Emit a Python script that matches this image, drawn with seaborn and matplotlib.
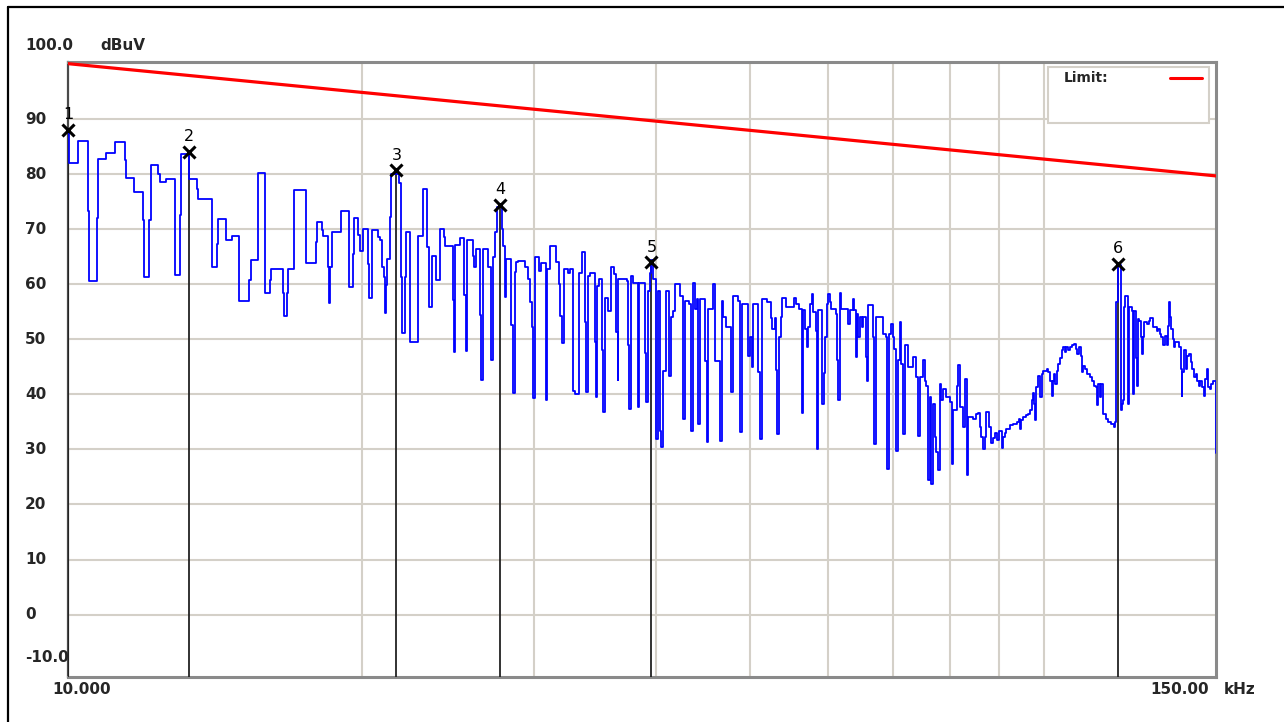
import matplotlib
matplotlib.use("Agg")
import pandas as pd
import matplotlib.pyplot as plt
import matplotlib.transforms as mtransforms
from matplotlib.lines import Line2D
from matplotlib.patches import Rectangle
from matplotlib.ticker import FixedLocator, NullLocator
import seaborn as sns

# ---------- DATA ----------
# scan trace (kHz, dBuV), each value holds until the next frequency
freq_a = [10.00, 10.03, 10.25, 10.48, 10.51, 10.72, 10.74, 10.94, 11.18, 11.45, 11.47, 11.69, 11.94, 11.96,
          12.11, 12.16, 12.37, 12.43, 12.60, 12.88, 13.03, 13.06, 13.31, 13.56, 13.59, 14.05, 14.20, 14.24,
          14.52, 14.71, 14.98, 15.34, 15.40, 15.64, 15.90, 15.93, 16.10, 16.14, 16.60, 16.66, 16.75, 16.79,
          17.03, 17.06]
level_a = [87.5, 82.0, 86.0, 73.4, 60.6, 72.0, 82.7, 83.8, 85.9, 82.6, 79.4, 76.7, 71.6, 61.4,
           71.7, 81.7, 80.0, 78.6, 79.1, 61.7, 72.6, 83.6, 79.1, 77.3, 75.5, 63.1, 67.3, 71.8,
           68.1, 68.7, 57.0, 60.7, 64.4, 80.3, 69.3, 58.4, 60.7, 62.8, 58.4, 54.2, 58.4, 62.8,
           70.2, 77.2]

freq_b = [17.52, 17.94, 17.99, 18.19, 18.25, 18.46, 18.51, 18.57, 18.64, 19.06, 19.41, 19.57, 19.63, 19.84,
          19.90, 20.05, 20.28, 20.33, 20.50, 20.80, 20.86, 20.99, 21.06, 21.11, 21.16, 21.22, 21.36, 21.44,
          21.84, 21.96, 22.01, 22.14, 22.19, 22.43, 22.84, 23.11, 23.33, 23.42, 23.60, 23.85, 24.07, 24.26,
          24.36, 24.77, 24.85, 24.93, 25.20, 25.46, 25.56, 25.64, 25.97, 26.05, 26.15, 26.42, 26.52, 26.59,
          26.94, 27.15, 27.26, 27.41, 27.54, 27.81, 27.91, 28.02, 28.13, 28.46, 28.57, 28.68, 28.80, 28.91,
          29.37, 29.60, 29.72, 29.88, 29.95]
level_b = [63.9, 67.7, 71.3, 69.9, 68.7, 63.1, 56.6, 63.1, 69.6, 73.4, 59.5, 65.5, 72.0, 68.9,
           66.1, 70.1, 63.7, 57.6, 69.9, 68.6, 68.0, 63.1, 61.3, 54.8, 59.8, 64.6, 72.3, 80.1,
           78.5, 61.3, 51.2, 61.3, 69.5, 49.6, 68.7, 77.4, 66.7, 55.9, 65.1, 60.7, 70.1, 68.6,
           67.0, 57.1, 47.7, 67.2, 68.4, 58.0, 47.8, 68.0, 65.2, 63.1, 66.4, 54.4, 42.7, 66.4,
           63.1, 46.3, 64.9, 69.6, 74.1, 70.1, 67.0, 57.7, 64.6, 52.6, 40.2, 62.2, 64.0, 64.3,
           63.1, 61.0, 56.8, 52.3, 39.3]

freq_c = [30.12, 30.36, 30.55, 30.86, 30.96, 31.21, 31.60, 31.85, 31.95, 32.07, 32.20, 32.53, 32.66, 32.92,
          33.06, 33.37, 33.64, 33.85, 33.93, 34.06, 34.24, 34.65, 34.73, 34.84, 35.01, 35.21, 35.35, 35.49,
          35.76, 35.96, 36.24, 36.41, 36.56, 36.64, 37.35, 37.49, 37.57, 37.70, 37.93, 38.38, 38.47, 38.99,
          39.14, 39.29, 39.45, 39.60, 39.75, 40.07, 40.23, 40.39, 40.55, 40.71, 40.97, 41.28, 41.52, 41.67,
          41.91, 42.41, 42.67, 42.84, 43.28, 43.45, 43.63, 43.87, 44.05, 44.21, 44.39, 44.92, 45.10, 45.26,
          45.74, 45.99, 46.53, 46.72, 46.89, 47.27, 47.83, 48.01, 48.58, 48.86, 49.01, 49.75, 49.95, 50.15,
          50.34, 50.93, 51.13, 51.46]
level_c = [65.0, 62.5, 63.8, 38.9, 62.7, 67.0, 64.1, 60.0, 54.3, 49.3, 62.7, 62.1, 62.7, 40.6,
           40.0, 62.1, 65.8, 53.1, 40.4, 61.5, 62.1, 49.5, 39.5, 59.7, 60.9, 48.0, 36.8, 57.6,
           55.2, 63.1, 61.8, 51.3, 42.6, 60.9, 60.6, 48.9, 37.4, 61.5, 60.3, 37.7, 60.3, 47.6,
           38.6, 58.8, 62.1, 64.4, 60.9, 31.9, 58.8, 33.4, 30.4, 44.3, 58.8, 43.4, 54.0, 55.2,
           60.0, 57.9, 35.6, 57.0, 56.4, 33.4, 60.3, 55.5, 57.3, 34.7, 57.3, 46.1, 31.3, 55.5,
           60.0, 46.1, 31.6, 57.0, 54.0, 52.2, 40.4, 57.9, 57.0, 33.1, 56.4, 47.0, 50.4, 44.9,
           56.4, 44.0, 31.9, 57.3]

freq_d = [52.02, 52.56, 52.69, 52.98, 53.10, 53.31, 53.51, 53.73, 53.86, 54.37, 55.45, 55.76, 56.11, 56.43,
          56.51, 56.64, 56.87, 57.10, 57.31, 57.54, 57.77, 58.00, 58.32, 58.54, 58.67, 59.28, 59.46, 59.60,
          59.85, 60.07, 60.31, 60.55, 61.17, 61.35, 61.55, 61.74, 61.99, 62.98, 63.23, 63.64, 63.88, 64.10,
          64.25, 64.49, 64.76, 65.02, 65.27, 65.69, 65.89, 66.02, 66.72, 66.93, 67.20, 68.42, 68.86, 69.08,
          69.28, 69.61, 69.94, 70.20, 70.43, 70.59, 70.86, 71.14, 71.43, 71.71, 71.99, 72.55, 73.41, 74.00,
          74.28, 74.57, 75.16, 75.46, 75.77, 76.05, 76.36, 76.67, 76.97, 77.27, 77.58, 77.88, 78.19, 78.50,
          78.80, 79.43, 80.06, 80.38, 80.69, 81.34, 81.64, 81.97, 82.61, 82.94, 83.27, 83.58, 84.57, 85.25,
          85.58, 85.92, 86.26, 86.59, 86.94, 87.29, 87.83]
level_d = [56.8, 53.8, 51.9, 53.8, 44.4, 32.8, 50.4, 54.1, 57.6, 55.9, 57.6, 56.5, 55.6, 46.2,
           36.6, 55.3, 51.9, 48.6, 52.2, 56.5, 58.2, 55.0, 51.6, 30.1, 55.3, 38.3, 43.8, 50.4,
           56.5, 58.2, 56.8, 55.6, 54.7, 46.2, 38.9, 58.4, 55.6, 52.8, 55.3, 57.4, 55.3, 46.8,
           54.7, 50.4, 54.1, 52.2, 54.1, 46.8, 42.5, 56.2, 50.4, 31.0, 54.1, 51.0, 50.4, 26.5,
           51.0, 52.8, 50.4, 48.3, 39.5, 29.8, 46.2, 53.2, 45.6, 32.8, 48.9, 45.0, 46.8, 43.2,
           32.5, 43.2, 46.2, 42.5, 41.6, 24.4, 39.5, 23.8, 38.3, 32.2, 29.5, 26.2, 41.9, 38.9,
           41.0, 39.5, 38.6, 27.4, 37.1, 41.6, 45.3, 37.7, 34.1, 42.8, 25.3, 35.9, 35.6, 36.5,
           36.6, 34.1, 32.2, 30.1, 32.2, 36.8, 34.1]

freq_e = [88.3, 88.7, 89.0, 89.4, 89.9, 90.6, 90.8, 91.1, 91.5, 92.2, 92.9, 93.7, 94.2, 94.4,
          94.8, 95.2, 95.9, 96.3, 96.7, 97.1, 97.3, 97.6, 97.8, 98.2, 98.6, 99.0, 99.4, 99.8,
          100.6, 100.9, 101.3, 101.8, 102.0, 102.3, 102.6, 103.0, 103.4, 103.8, 104.2, 104.6, 105.0, 105.4,
          105.8, 106.2, 106.9, 107.3, 107.8, 108.1, 108.6, 109.0, 109.3, 109.7, 110.2, 110.6, 111.5, 112.0,
          112.4, 112.9, 113.3, 113.6, 114.0, 114.3, 114.8, 115.7, 116.3, 117.2, 117.9, 118.2, 118.4, 118.6,
          119.1, 119.8, 120.1, 120.5, 120.7, 121.1, 121.9, 122.2, 122.9, 123.4, 123.7, 124.1, 124.4, 124.7,
          125.2, 125.6, 126.0, 126.4, 126.7, 127.6, 128.1, 128.4, 129.2, 130.4, 130.8, 131.4, 131.9, 132.4,
          132.9, 133.5, 134.0, 134.2, 134.5, 134.8, 135.4, 135.8, 136.3, 137.5, 138.0, 138.3, 138.6, 139.0,
          139.7, 140.1, 140.7, 141.3, 141.9, 142.4, 143.0, 143.5, 144.1, 144.6, 145.1, 145.8, 146.1, 146.7,
          147.2, 147.8, 148.4, 149.0, 149.9, 150.0]
level_e = [31.1, 32.0, 32.9, 31.7, 33.3, 30.2, 32.3, 32.9, 33.8, 34.4, 34.7, 35.0, 35.6, 33.8,
           35.3, 35.9, 36.2, 36.5, 37.1, 38.9, 40.2, 38.3, 35.3, 41.3, 43.4, 39.5, 43.7, 44.3,
           44.6, 44.0, 42.5, 39.8, 42.5, 43.7, 41.9, 44.3, 45.5, 46.7, 48.0, 48.7, 47.7, 48.7,
           48.0, 48.6, 48.9, 49.2, 48.3, 47.3, 48.6, 47.0, 44.0, 45.2, 44.6, 43.7, 43.1, 42.5,
           41.6, 41.3, 38.0, 41.9, 39.5, 41.9, 36.5, 35.6, 35.0, 34.7, 34.1, 35.0, 43.7, 56.7,
           63.5, 37.1, 38.3, 38.9, 55.8, 57.9, 38.3, 55.8, 55.2, 40.1, 55.2, 46.7, 41.6, 53.7,
           53.4, 50.4, 47.3, 50.4, 53.1, 52.8, 53.4, 53.9, 52.2, 51.6, 51.9, 51.0, 50.4, 48.9,
           50.7, 48.9, 52.5, 56.7, 54.0, 51.9, 50.1, 48.7, 49.5, 48.6, 44.6, 39.8, 44.0, 48.0,
           44.6, 47.0, 47.3, 45.8, 44.6, 43.1, 43.7, 42.5, 41.6, 42.5, 41.3, 39.8, 42.8, 44.6,
           41.3, 41.0, 41.9, 42.5, 29.3, 29.3]

# limit line
limit_freq = [10.0, 150.0]
limit_level = [100.1, 79.7]

# peak markers
marker_freq = [10.0, 13.3, 21.7, 27.7, 39.6, 119.1]
marker_level = [88.0, 84.0, 80.7, 74.4, 64.0, 63.7]
marker_label = ["1", "2", "3", "4", "5", "6"]

y_ticks = [90, 80, 70, 60, 50, 40, 30, 20, 10, 0]
x_grid = [20, 30, 40, 50, 60, 70, 80, 90, 100]

trace = pd.DataFrame({
    "freq": freq_a + freq_b + freq_c + freq_d + freq_e,
    "level": level_a + level_b + level_c + level_d + level_e,
})

# ---------- STYLE ----------
sns.set_style("white")
plt.rcParams["font.family"] = ["DejaVu Sans"]

W, H = 1284, 722
fig = plt.figure(figsize=(W / 100, H / 100), dpi=100)
fig.patch.set_facecolor("white")
ax = fig.add_axes([68 / W, 1 - 677 / H, 1148 / W, 615 / H])

ax.set_xscale("log")
ax.set_xlim(10, 150)
ax.set_ylim(-11.35, 100.4)
ax.xaxis.set_major_locator(FixedLocator(x_grid))
ax.xaxis.set_minor_locator(NullLocator())
ax.yaxis.set_major_locator(FixedLocator(y_ticks))
ax.tick_params(length=0, labelbottom=False, labelleft=False)
ax.grid(True, color="#d4d0c8", lw=1.5)
ax.set_axisbelow(True)

for side in ["top", "right", "bottom"]:
    ax.spines[side].set_color("#8a8a8a")
    ax.spines[side].set_linewidth(2.2)
ax.spines["left"].set_color("#4a4a4a")
ax.spines["left"].set_linewidth(1.6)

# ---------- PLOT ----------
ymin = ax.get_ylim()[0]
ax.vlines(marker_freq, ymin, marker_level, color="#222222", lw=1.3, zorder=3)

sns.lineplot(data=trace, x="freq", y="level", drawstyle="steps-post", color="#0000ff",
             lw=1.3, estimator=None, sort=False, ax=ax, zorder=4)
sns.lineplot(x=limit_freq, y=limit_level, color="#ff0000", lw=2.3, ax=ax, zorder=4)

ax.plot(marker_freq, marker_level, ls="none", marker="x", ms=9, mew=2.2, color="black",
        zorder=6, clip_on=False)
for f, lv, lab in zip(marker_freq, marker_level, marker_label):
    ax.annotate(lab, (f, lv), xytext=(0, 11), textcoords="offset points", ha="center",
                va="center", fontsize=11.5, color="black", annotation_clip=False, zorder=7)
ax.set_xlabel("")
ax.set_ylabel("")

# legend box
ax.add_patch(Rectangle((0.8539, 0.9013), 0.1403, 0.0911, transform=ax.transAxes,
                       facecolor="white", edgecolor="#d4d0c8", lw=1.5, zorder=5))
ax.text(0.8676, 0.974, "Limit:", transform=ax.transAxes, ha="left", va="center",
        fontsize=10, fontweight="bold", zorder=6)
ax.add_line(Line2D([0.9599, 0.9878], [0.974, 0.974], transform=ax.transAxes,
                   color="#ff0000", lw=2.2, zorder=6))

# axis labels
trans = mtransforms.blended_transform_factory(fig.transFigure, ax.transData)
for v in y_ticks:
    ax.text(25 / W, v, str(v), transform=trans, ha="left", va="center",
            fontsize=11, fontweight="bold")
fig.text(25 / W, 1 - 658 / H, "-10.0", ha="left", va="center", fontsize=11, fontweight="bold")
fig.text(25 / W, 1 - 45 / H, "100.0", ha="left", va="center", fontsize=11, fontweight="bold")
fig.text(100 / W, 1 - 45 / H, "dBuV", ha="left", va="center", fontsize=11, fontweight="bold")
fig.text(52 / W, 1 - 690 / H, "10.000", ha="left", va="center", fontsize=11, fontweight="bold")
fig.text(1150 / W, 1 - 690 / H, "150.00", ha="left", va="center", fontsize=11, fontweight="bold")
fig.text(1224 / W, 1 - 690 / H, "kHz", ha="left", va="center", fontsize=11, fontweight="bold")

# outer window frame
fig.add_artist(Line2D([8 / W, 1], [1 - 7 / H, 1 - 7 / H], transform=fig.transFigure,
                      color="black", lw=1.6))
fig.add_artist(Line2D([8 / W, 8 / W], [0, 1 - 7 / H], transform=fig.transFigure,
                      color="black", lw=1.6))

fig.savefig("out.png", dpi=100)
